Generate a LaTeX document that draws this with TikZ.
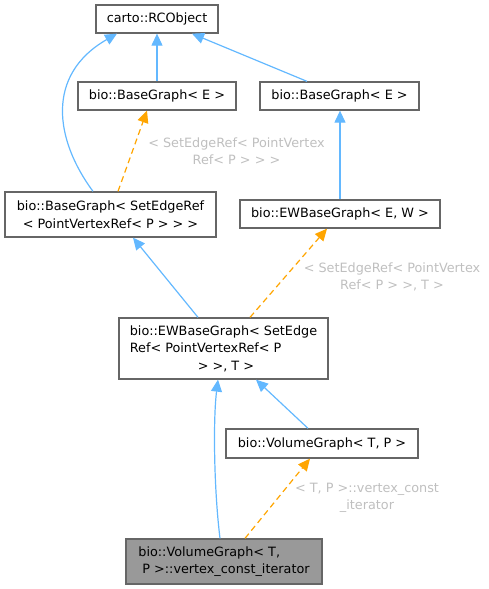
\documentclass[tikz,border=0pt]{standalone}
\usepackage{fontspec}
\setmainfont{DejaVu Sans}
\usetikzlibrary{
  arrows.meta,
  calc
}
\definecolor{DoxBlue}{HTML}{63B8FF}
\definecolor{DoxOrange}{HTML}{FFA500}
\definecolor{DoxFrame}{HTML}{666666}
\definecolor{DoxGray}{HTML}{999999}
\definecolor{DoxLabel}{HTML}{BFBFBF}
\tikzset{
  every node/.style = {font=\fontsize{12.8}{17.5}\selectfont, text=black},
  classbox/.style = {
    draw=DoxFrame,
    fill=white,
    line width=1.3pt,
    inner sep=0pt,
    align=center
  },
  classbox focus/.style = {classbox, fill=DoxGray},
  inherit/.style = {-{Triangle[length=12pt,width=11pt]}, draw=DoxBlue, line width=1.2pt},
  inherit tpl/.style = {inherit, draw=DoxOrange, dash pattern=on 6pt off 4pt},
  tpl label/.style = {text=DoxLabel, align=center, inner sep=0pt},
}

\begin{document}
\begin{tikzpicture}[x=1pt,y=-1pt]
  \useasboundingbox (0,0) rectangle (488,589);

  \node[classbox, minimum width=122pt, minimum height=28pt] (rco) at (157,19) {carto::RCObject};
  \node[classbox, minimum width=158pt, minimum height=28pt] (bg1) at (157,96) {bio::BaseGraph< E >};
  \node[classbox, minimum width=159pt, minimum height=28pt] (bg2) at (339.5,96) {bio::BaseGraph< E >};
  \node[classbox, minimum width=211pt, minimum height=45pt] (bgs) at (110.5,214.5) {bio::BaseGraph< SetEdgeRef\\< PointVertexRef< P > > >};
  \node[classbox, minimum width=200pt, minimum height=28pt] (ew) at (340,214) {bio::EWBaseGraph< E, W >};
  \node[classbox, minimum width=209pt, minimum height=61pt, align=left] (ews) at (223.5,348.5)
    {bio::EWBaseGraph< SetEdge\\Ref< PointVertexRef< P\\\hspace*{68pt}> >, T >};
  \node[classbox, minimum width=192pt, minimum height=29pt] (vg) at (322,443.5) {bio::VolumeGraph< T, P >};
  \node[classbox focus, minimum width=196pt, minimum height=45pt, align=left] (vci) at (224,561.5)
    {bio::VolumeGraph< T,\\\hspace*{4pt}P >::vertex\_const\_iterator};

  \node[tpl label] (lblbgs) at (236.5,151) {< SetEdgeRef< PointVertex\\Ref< P > > >};
  \node[tpl label] (lblews) at (392,277) {< SetEdgeRef< PointVertex\\Ref< P > >, T >};
  \node[tpl label] (lblvci) at (367,498) {< T, P >::vertex\_const\\\_iterator};

  \draw[inherit] (bg1.north) -- (rco.south);
  \draw[inherit] ($(bg2.north)+(-32.5,0)$) -- ($(rco.south)+(35,0)$);
  \draw[inherit] ($(bgs.north)+(-17.5,0)$) .. controls (55,140) and (45,75) .. ($(rco.south)+(-40,0)$);
  \draw[inherit tpl] ($(bgs.north)+(7.5,0)$) -- ($(bg1.south)+(-10,0)$);
  \draw[inherit] (ew.north) -- (ew.north|-bg2.south);
  \draw[inherit] ($(ews.north)+(-25.5,0)$) -- ($(bgs.south)+(22.5,0)$);
  \draw[inherit tpl] ($(ews.north)+(26.5,0)$) -- ($(ew.south)+(-13,0)$);
  \draw[inherit] ($(vg.north)+(-14,0)$) -- ($(ews.south)+(32.5,0)$);
  \draw[inherit] ($(vci.north)+(-4,0)$) .. controls (214,490) and (213,420) .. ($(ews.south)+(-5.5,0)$);
  \draw[inherit tpl] ($(vci.north)+(21,0)$) -- ($(vg.south)+(-12,0)$);
\end{tikzpicture}
\end{document}
